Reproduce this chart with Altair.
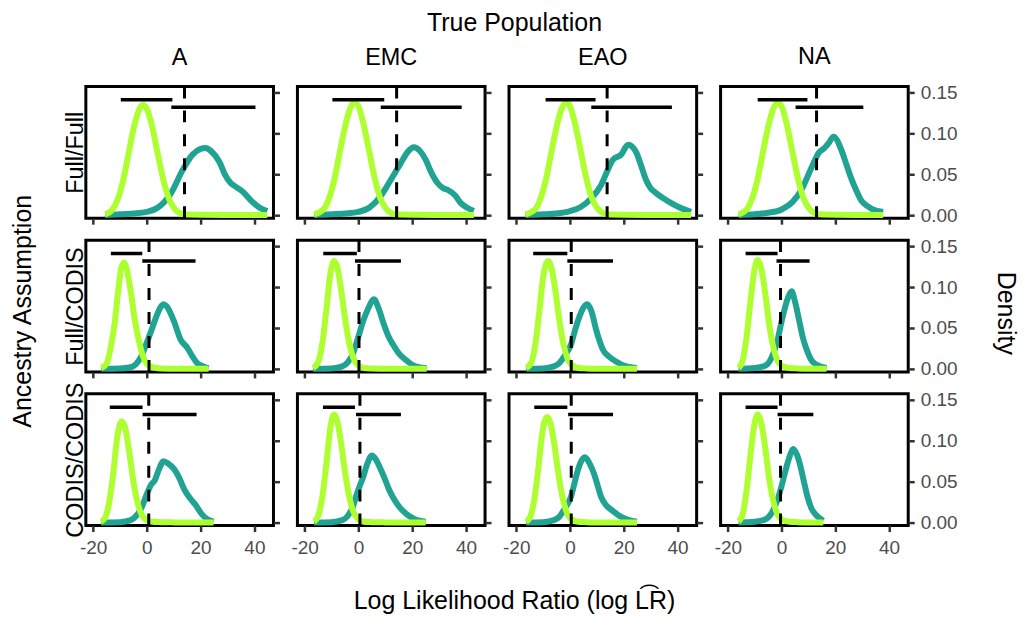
import altair as alt
import pandas as pd

POPULATIONS = ["A", "EMC", "EAO", "NA"]
ASSUMPTIONS = ["Full/Full", "Full/CODIS", "CODIS/CODIS"]
X_TICKS = [-20, 0, 20, 40]
Y_TICKS = [0.0, 0.05, 0.10, 0.15]

# ---------------- Full/Full ----------------
FF_A_UNREL_X = [-15.5, -13, -11, -9, -7, -5, -3, -1.5, 0, 2, 4, 6, 8, 10, 12, 14, 20, 30, 44.8]
FF_A_UNREL_Y = [0.001, 0.006, 0.018, 0.040, 0.072, 0.105, 0.128, 0.135, 0.130, 0.108, 0.076, 0.045, 0.022, 0.009, 0.003, 0.001, 0.0005, 0.0003, 0.0002]
FF_A_REL_X = [-15.5, -10, -5, 0, 4, 9, 13.6, 17, 20, 21.8, 24, 27, 29, 31, 33, 35.6, 39.3, 42, 44.8]
FF_A_REL_Y = [0.0003, 0.001, 0.002, 0.004, 0.009, 0.027, 0.057, 0.074, 0.081, 0.082, 0.078, 0.065, 0.050, 0.040, 0.035, 0.029, 0.016, 0.009, 0.005]

FF_EMC_UNREL_X = [-16.5, -13, -11, -9, -7, -5, -3, -1.7, 0, 2, 4, 6, 8, 10, 12, 14, 20, 30, 42.9]
FF_EMC_UNREL_Y = [0.001, 0.007, 0.020, 0.043, 0.076, 0.108, 0.131, 0.138, 0.133, 0.110, 0.078, 0.046, 0.022, 0.009, 0.003, 0.001, 0.0005, 0.0003, 0.0002]
FF_EMC_REL_X = [-16.5, -10, -5, 0, 4, 8, 12, 15.8, 18.5, 20.6, 23, 25, 27, 29.5, 31.5, 33.2, 36, 38, 40.5, 42.9]
FF_EMC_REL_Y = [0.0003, 0.001, 0.002, 0.004, 0.009, 0.022, 0.043, 0.064, 0.078, 0.083, 0.078, 0.068, 0.053, 0.039, 0.033, 0.031, 0.024, 0.015, 0.009, 0.005]

FF_EAO_UNREL_X = [-16.6, -13, -11, -9, -7, -5, -3, -1.4, 0, 2, 4, 6, 8, 10, 12, 14, 20, 30, 45]
FF_EAO_UNREL_Y = [0.001, 0.007, 0.020, 0.043, 0.076, 0.108, 0.131, 0.138, 0.133, 0.110, 0.078, 0.046, 0.022, 0.009, 0.003, 0.001, 0.0005, 0.0003, 0.0002]
FF_EAO_REL_X = [-16.6, -10, -5, 0, 4, 8, 11.6, 14, 16, 19, 21.6, 24.6, 26.5, 28.3, 30, 32, 35, 37.5, 41, 45]
FF_EAO_REL_Y = [0.0003, 0.001, 0.002, 0.005, 0.010, 0.021, 0.037, 0.055, 0.068, 0.074, 0.086, 0.077, 0.060, 0.043, 0.033, 0.027, 0.020, 0.015, 0.009, 0.004]

FF_NA_UNREL_X = [-16, -13, -11, -9, -7, -5, -3, -1.5, 0, 2, 4, 6, 8, 10, 12, 14, 20, 30, 37.8]
FF_NA_UNREL_Y = [0.001, 0.007, 0.020, 0.043, 0.076, 0.108, 0.131, 0.138, 0.133, 0.110, 0.078, 0.046, 0.022, 0.009, 0.003, 0.001, 0.0005, 0.0003, 0.0002]
FF_NA_REL_X = [-16, -10, -5, 0, 4, 7.4, 11.1, 14, 15.9, 17.5, 19.3, 22.2, 24, 25.9, 27.8, 29.6, 32, 34, 37.8]
FF_NA_REL_Y = [0.0003, 0.001, 0.003, 0.007, 0.016, 0.031, 0.058, 0.077, 0.082, 0.088, 0.096, 0.080, 0.063, 0.045, 0.030, 0.018, 0.011, 0.007, 0.004]

# ---------------- Full/CODIS ----------------
FC_A_UNREL_X = [-17, -15, -13.5, -12, -10.5, -9.5, -8.5, -7.5, -6, -4.5, -3, -1.5, 0, 2, 5, 10, 15, 23]
FC_A_UNREL_Y = [0.001, 0.006, 0.025, 0.055, 0.100, 0.124, 0.130, 0.122, 0.095, 0.060, 0.035, 0.016, 0.006, 0.002, 0.0005, 0.0002, 0.0001, 0.0001]
FC_A_REL_X = [-17, -10, -6, -4, -2.3, 0.2, 2, 3.3, 5, 6.3, 7.5, 10.1, 12.5, 15, 17, 18.7, 21, 23]
FC_A_REL_Y = [0.0002, 0.0005, 0.002, 0.006, 0.014, 0.034, 0.050, 0.062, 0.075, 0.079, 0.076, 0.058, 0.036, 0.026, 0.015, 0.007, 0.003, 0.001]

FC_EMC_UNREL_X = [-16.9, -15, -13.5, -12, -10.5, -9.1, -8, -6.5, -5, -3.5, -2, 0, 2, 5, 10, 15, 25.4]
FC_EMC_UNREL_Y = [0.001, 0.008, 0.030, 0.070, 0.115, 0.132, 0.126, 0.098, 0.062, 0.033, 0.014, 0.004, 0.001, 0.0005, 0.0002, 0.0001, 0.0001]
FC_EMC_REL_X = [-16.9, -10, -6, -4, -2, -0.9, 0.5, 1.7, 3.5, 5.8, 7.5, 9.5, 11, 12.8, 15, 17.6, 20, 22.5, 25.4]
FC_EMC_REL_Y = [0.0002, 0.0005, 0.003, 0.008, 0.019, 0.030, 0.045, 0.058, 0.073, 0.085, 0.074, 0.054, 0.041, 0.030, 0.019, 0.011, 0.005, 0.002, 0.001]

FC_EAO_UNREL_X = [-16.3, -14.5, -13, -11.5, -10, -8.1, -7, -5.5, -4, -2.5, -1, 1, 3, 6, 10, 15, 24.9]
FC_EAO_UNREL_Y = [0.001, 0.007, 0.028, 0.068, 0.112, 0.132, 0.125, 0.097, 0.060, 0.031, 0.013, 0.004, 0.001, 0.0005, 0.0002, 0.0001, 0.0001]
FC_EAO_REL_X = [-16.3, -10, -6, -4, -2, 0.4, 2, 3.4, 5, 6.4, 8, 9.7, 11, 12.3, 14.5, 17.1, 20, 24.9]
FC_EAO_REL_Y = [0.0002, 0.0005, 0.003, 0.007, 0.016, 0.030, 0.049, 0.063, 0.075, 0.079, 0.070, 0.048, 0.034, 0.023, 0.015, 0.009, 0.004, 0.001]

FC_NA_UNREL_X = [-16, -14.5, -13, -11.5, -10, -8.9, -7.5, -6, -4.5, -3, -1.5, 0.5, 3, 6, 10, 16.7]
FC_NA_UNREL_Y = [0.001, 0.010, 0.040, 0.085, 0.123, 0.133, 0.122, 0.090, 0.052, 0.025, 0.010, 0.003, 0.001, 0.0005, 0.0002, 0.0001]
FC_NA_REL_X = [-16, -10, -6, -4, -1.9, 0, 1.1, 2.5, 3.7, 5, 6.6, 8, 9.6, 11, 13, 16.7]
FC_NA_REL_Y = [0.0002, 0.001, 0.004, 0.012, 0.030, 0.058, 0.073, 0.088, 0.095, 0.082, 0.058, 0.037, 0.021, 0.011, 0.005, 0.001]

# ---------------- CODIS/CODIS ----------------
CC_A_UNREL_X = [-17.1, -15.5, -14, -12.5, -11, -9.4, -8, -6.5, -5, -3.5, -2, 0, 2, 5, 10, 15, 24.8]
CC_A_UNREL_Y = [0.001, 0.006, 0.025, 0.060, 0.105, 0.124, 0.115, 0.085, 0.050, 0.025, 0.010, 0.003, 0.001, 0.0005, 0.0002, 0.0001, 0.0001]
CC_A_REL_X = [-17.1, -10, -6, -4, -2, 0, 1.5, 3, 4.5, 6.2, 8, 10, 12, 14, 16, 18, 20.5, 22.5, 24.8]
CC_A_REL_Y = [0.0002, 0.0005, 0.003, 0.008, 0.018, 0.035, 0.046, 0.052, 0.065, 0.075, 0.072, 0.066, 0.055, 0.040, 0.030, 0.022, 0.010, 0.004, 0.001]

CC_EMC_UNREL_X = [-16.5, -15, -13.5, -12, -10.5, -9.1, -8, -6.5, -5, -3.5, -2, 0, 2, 5, 10, 15, 25]
CC_EMC_UNREL_Y = [0.001, 0.008, 0.030, 0.070, 0.115, 0.132, 0.126, 0.098, 0.062, 0.033, 0.014, 0.004, 0.001, 0.0005, 0.0002, 0.0001, 0.0001]
CC_EMC_REL_X = [-16.5, -10, -6, -4, -2, -0.9, 0.5, 1.7, 3.3, 5, 6.5, 8.3, 10, 11.3, 13, 15, 18, 21, 25]
CC_EMC_REL_Y = [0.0002, 0.0005, 0.003, 0.008, 0.020, 0.032, 0.045, 0.055, 0.072, 0.082, 0.077, 0.065, 0.052, 0.041, 0.030, 0.020, 0.010, 0.004, 0.001]

CC_EAO_UNREL_X = [-16.3, -14.8, -13.3, -11.8, -10.3, -8.5, -7.3, -5.8, -4.3, -2.8, -1.3, 0.5, 3, 6, 10, 15, 24.9]
CC_EAO_UNREL_Y = [0.001, 0.007, 0.028, 0.066, 0.110, 0.129, 0.122, 0.095, 0.059, 0.031, 0.013, 0.004, 0.001, 0.0005, 0.0002, 0.0001, 0.0001]
CC_EAO_REL_X = [-16.3, -10, -6, -4, -2, 0.4, 1.8, 3, 4.3, 5.6, 7.3, 9, 10.3, 11.6, 13.5, 16, 19, 22, 24.9]
CC_EAO_REL_Y = [0.0002, 0.0005, 0.003, 0.007, 0.017, 0.032, 0.050, 0.065, 0.076, 0.080, 0.072, 0.059, 0.045, 0.031, 0.021, 0.014, 0.007, 0.003, 0.001]

CC_NA_UNREL_X = [-16, -14.5, -13, -11.5, -10, -8.9, -7.5, -6, -4.5, -3, -1.5, 0.5, 3, 6, 10, 15.5]
CC_NA_UNREL_Y = [0.001, 0.010, 0.040, 0.085, 0.122, 0.132, 0.121, 0.089, 0.051, 0.025, 0.010, 0.003, 0.001, 0.0005, 0.0002, 0.0001]
CC_NA_REL_X = [-16, -10, -6, -3.5, -1.5, 0, 1.1, 2.9, 4.4, 5.7, 7, 8.3, 9.6, 11, 12.6, 15.5]
CC_NA_REL_Y = [0.0002, 0.001, 0.004, 0.013, 0.028, 0.045, 0.059, 0.080, 0.090, 0.083, 0.069, 0.050, 0.032, 0.018, 0.010, 0.002]

# thresholds (dashed line) per assumption, one per population
THRESHOLD_FF = [14.0, 14.2, 13.8, 13.0]
THRESHOLD_FC = [0.8, 0.2, 0.45, -0.4]
THRESHOLD_CC = [0.7, 0.55, 0.45, -0.4]

# interval bars (low, high) per assumption, one per population
UNREL_LO_FF = [-9.7, -9.7, -9.1, -8.9]
UNREL_HI_FF = [9.5, 9.6, 9.5, 9.6]
REL_LO_FF = [9.1, 8.3, 7.9, 5.2]
REL_HI_FF = [40.4, 38.4, 37.9, 30.4]

UNREL_LO_FC = [-13.4, -13.1, -13.7, -13.4]
UNREL_HI_FC = [-1.7, -0.6, -1.0, -1.5]
REL_LO_FC = [-1.7, -1.3, -1.0, -1.9]
REL_HI_FC = [18.1, 15.8, 16.0, 10.4]

UNREL_LO_CC = [-13.8, -13.2, -13.3, -13.4]
UNREL_HI_CC = [-1.6, -1.3, -1.0, -1.5]
REL_LO_CC = [-1.6, -0.9, -0.7, -1.5]
REL_HI_CC = [18.5, 15.8, 16.0, 11.8]

UNREL_BAR_Y = 0.141
REL_BAR_Y = 0.132

CURVES = {
    ("Full/Full", "A"): (FF_A_UNREL_X, FF_A_UNREL_Y, FF_A_REL_X, FF_A_REL_Y),
    ("Full/Full", "EMC"): (FF_EMC_UNREL_X, FF_EMC_UNREL_Y, FF_EMC_REL_X, FF_EMC_REL_Y),
    ("Full/Full", "EAO"): (FF_EAO_UNREL_X, FF_EAO_UNREL_Y, FF_EAO_REL_X, FF_EAO_REL_Y),
    ("Full/Full", "NA"): (FF_NA_UNREL_X, FF_NA_UNREL_Y, FF_NA_REL_X, FF_NA_REL_Y),
    ("Full/CODIS", "A"): (FC_A_UNREL_X, FC_A_UNREL_Y, FC_A_REL_X, FC_A_REL_Y),
    ("Full/CODIS", "EMC"): (FC_EMC_UNREL_X, FC_EMC_UNREL_Y, FC_EMC_REL_X, FC_EMC_REL_Y),
    ("Full/CODIS", "EAO"): (FC_EAO_UNREL_X, FC_EAO_UNREL_Y, FC_EAO_REL_X, FC_EAO_REL_Y),
    ("Full/CODIS", "NA"): (FC_NA_UNREL_X, FC_NA_UNREL_Y, FC_NA_REL_X, FC_NA_REL_Y),
    ("CODIS/CODIS", "A"): (CC_A_UNREL_X, CC_A_UNREL_Y, CC_A_REL_X, CC_A_REL_Y),
    ("CODIS/CODIS", "EMC"): (CC_EMC_UNREL_X, CC_EMC_UNREL_Y, CC_EMC_REL_X, CC_EMC_REL_Y),
    ("CODIS/CODIS", "EAO"): (CC_EAO_UNREL_X, CC_EAO_UNREL_Y, CC_EAO_REL_X, CC_EAO_REL_Y),
    ("CODIS/CODIS", "NA"): (CC_NA_UNREL_X, CC_NA_UNREL_Y, CC_NA_REL_X, CC_NA_REL_Y),
}
THRESHOLDS = {"Full/Full": THRESHOLD_FF, "Full/CODIS": THRESHOLD_FC, "CODIS/CODIS": THRESHOLD_CC}
BARS = {
    "Full/Full": (UNREL_LO_FF, UNREL_HI_FF, REL_LO_FF, REL_HI_FF),
    "Full/CODIS": (UNREL_LO_FC, UNREL_HI_FC, REL_LO_FC, REL_HI_FC),
    "CODIS/CODIS": (UNREL_LO_CC, UNREL_HI_CC, REL_LO_CC, REL_HI_CC),
}

GREEN = "#ADFF2F"
TEAL = "#21A394"
W, H = 188, 132
FONT = "Liberation Sans"
TICK_FS = 19
STRIP_FS = 23.5
TITLE_FS = 25

XS = alt.Scale(domain=[-22.7, 47.1], nice=False, zero=False)
YS = alt.Scale(domain=[-0.0037, 0.1574], nice=False, zero=False)


def panel(r, c):
    a = ASSUMPTIONS[r]
    p = POPULATIONS[c]
    gx, gy, tx, ty = CURVES[(a, p)]
    g_df = pd.DataFrame({"x": gx, "y": gy, "i": range(len(gx))})
    t_df = pd.DataFrame({"x": tx, "y": ty, "i": range(len(tx))})
    thr_df = pd.DataFrame({"thr": [THRESHOLDS[a][c]]})
    ulo, uhi, rlo, rhi = BARS[a]
    bar_df = pd.DataFrame({
        "lo": [ulo[c], rlo[c]],
        "hi": [uhi[c], rhi[c]],
        "yv": [UNREL_BAR_Y, REL_BAR_Y],
    })

    xaxis = alt.Axis(values=X_TICKS, labels=(r == 2), title=None, domain=False, grid=False,
                     ticks=True, tickSize=6, tickWidth=2.5, tickColor="#333333",
                     labelColor="#4D4D4D", labelFontSize=TICK_FS, labelPadding=7, labelFont=FONT,
                     labelExpr="replace(datum.label, '\u2212', '-')")
    yaxis_r = alt.Axis(orient="right", values=Y_TICKS, format=".2f", labels=(c == 3), title=None,
                       domain=False, grid=False, ticks=True, tickSize=6, tickWidth=2.5,
                       tickColor="#333333", labelColor="#4D4D4D", labelFontSize=TICK_FS,
                       labelPadding=6, labelFont=FONT)
    if c == 0:
        yaxis_l = alt.Axis(orient="left", title=a, labels=False, ticks=False, domain=False,
                           grid=False, titleFontSize=STRIP_FS, titleFontWeight="normal",
                           titleColor="black", titlePadding=-2, titleFont=FONT, minExtent=0)
    else:
        yaxis_l = None

    teal = alt.Chart(t_df).mark_line(color=TEAL, strokeWidth=6, interpolate="monotone").encode(
        x=alt.X("x:Q", scale=XS, axis=xaxis),
        y=alt.Y("y:Q", scale=YS, axis=yaxis_r),
        order="i:Q",
    )
    green = alt.Chart(g_df).mark_line(color=GREEN, strokeWidth=6, interpolate="monotone").encode(
        x=alt.X("x:Q", scale=XS, axis=xaxis),
        y=alt.Y("y:Q", scale=YS, axis=yaxis_l),
        order="i:Q",
    )
    bars = alt.Chart(bar_df).mark_rule(color="black", strokeWidth=3.5).encode(
        x=alt.X("lo:Q", scale=XS, axis=xaxis),
        x2="hi:Q",
        y=alt.Y("yv:Q", scale=YS, axis=None),
    )
    thr = alt.Chart(thr_df).mark_rule(color="black", strokeWidth=3, strokeDash=[12, 12]).encode(
        x=alt.X("thr:Q", scale=XS, axis=xaxis),
        y=alt.value(H),
        y2=alt.value(0),
    )
    layer = alt.layer(teal, green, bars, thr).resolve_axis(y="independent").properties(width=W, height=H)
    if r == 0:
        layer = layer.properties(title=alt.Title(p, fontSize=STRIP_FS, fontWeight="normal", font=FONT,
                                                 color="black", offset=15, anchor="middle"))
    return layer


panels = [panel(r, c) for r in range(3) for c in range(4)]

grid = alt.ConcatChart(concat=panels, columns=4, spacing={"row": 22, "column": 24},
                       bounds="flush", align="all")

c1 = alt.hconcat(grid, title=alt.Title("Ancestry Assumption", orient="left", fontSize=TITLE_FS,
                                       fontWeight="normal", font=FONT, color="black", offset=26,
                                       anchor="middle", dx=-10))
c2 = alt.hconcat(c1, title=alt.Title("Density", orient="right", fontSize=TITLE_FS, fontWeight="normal",
                                     font=FONT, color="black", offset=34, anchor="middle", dx=12))
c3 = alt.vconcat(c2, title=alt.Title("Log Likelihood Ratio (log L\u0361R)", orient="bottom",
                                     fontSize=TITLE_FS, fontWeight="normal", font=FONT, color="black",
                                     offset=30, anchor="middle"))
chart = alt.vconcat(c3, title=alt.Title("True Population", orient="top", fontSize=TITLE_FS,
                                        fontWeight="normal", font=FONT, color="black", offset=8,
                                        anchor="middle"))

chart = chart.properties(padding={"left": 3, "right": 0, "top": 2, "bottom": 0})
chart = chart.configure(font=FONT).configure_view(stroke="black", strokeWidth=3)

chart.save("out.html", embed_options={"renderer": "svg", "actions": False})
